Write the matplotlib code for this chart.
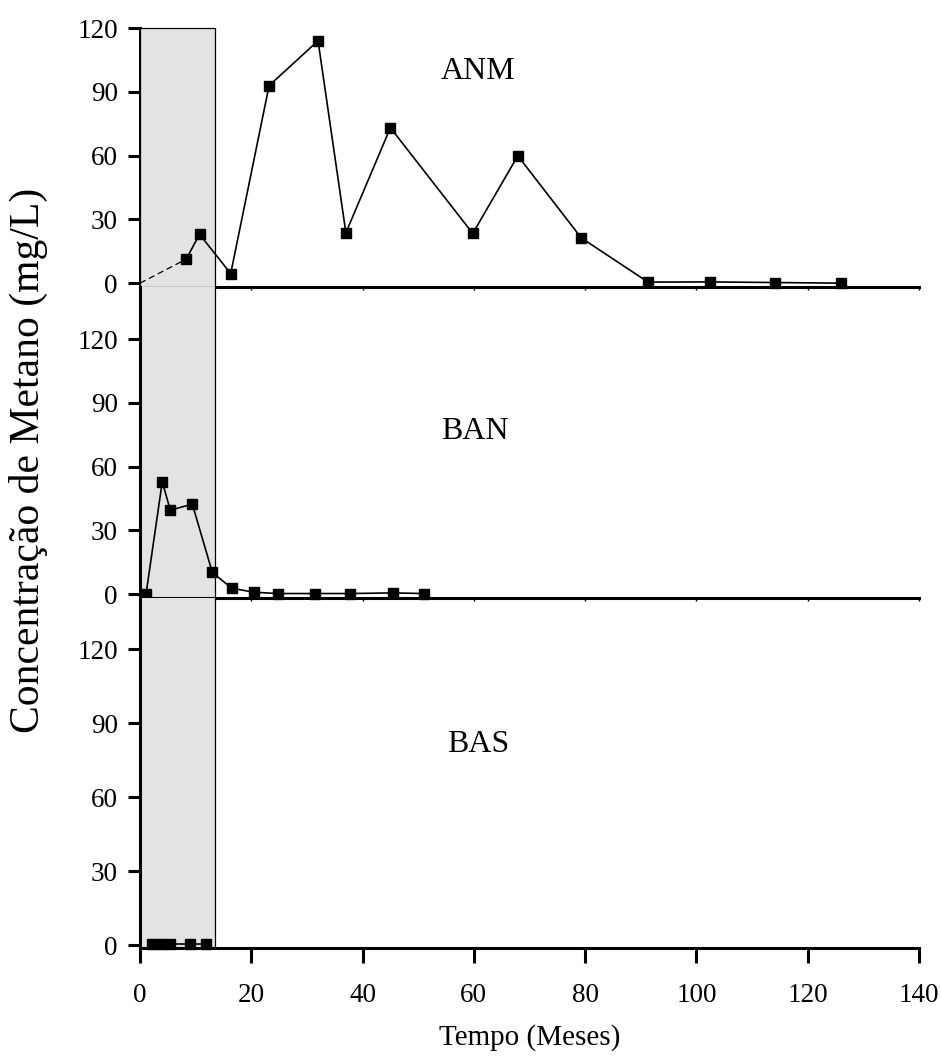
import matplotlib
matplotlib.use("Agg")
import matplotlib.pyplot as plt
from matplotlib.patches import Rectangle

plt.rcParams['font.family'] = ['Liberation Serif', 'DejaVu Serif']

# ---- data ----
anm_x = [8.3, 10.7, 16.3, 23.2, 32.0, 37.0, 45.0, 59.8, 67.9, 79.3, 91.3, 102.4, 114.1, 126.0]
anm_y = [11.3, 23.0, 4.5, 92.9, 114.0, 23.7, 73.1, 23.4, 59.9, 21.3, 0.5, 0.6, 0.3, 0.0]
anm_start_x = [0.0, 8.3]
anm_start_y = [0.0, 11.3]

ban_x = [1.1, 4.0, 5.45, 9.4, 13.0, 16.5, 20.5, 24.8, 31.5, 37.7, 45.5, 51.0]
ban_y = [0.3, 52.9, 39.5, 42.4, 10.2, 2.8, 0.9, 0.3, 0.3, 0.3, 0.6, 0.3]

bas_x = [2.2, 3.7, 5.4, 9.0, 11.9]
bas_y = [0.3, 0.3, 0.3, 0.3, 0.3]

labels = ["ANM", "BAN", "BAS"]
yticks = [0, 30, 60, 90, 120]
xticks = [0, 20, 40, 60, 80, 100, 120, 140]
shade_end = 13.5

W, H = 941, 1057
fig = plt.figure(figsize=(W / 100, H / 100), dpi=100)

left = 140 / W
width = (919 - 140) / W

def fy(p):
    return 1 - p / H

# panel pixel extents (top, bottom) and ylims
panels = [
    (28, 287, (-1.8, 120)),
    (287, 598, (-1.8, 144.5)),
    (598, 948, (-1.2, 140.7)),
]

axes = []
for (top, bot, yl) in panels:
    ax = fig.add_axes([left, fy(bot), width, (bot - top) / H])
    ax.set_xlim(0, 140)
    ax.set_ylim(*yl)
    ax.patch.set_alpha(0)
    for s in ["top", "right"]:
        ax.spines[s].set_visible(False)
    ax.spines["left"].set_linewidth(2.2)
    ax.spines["bottom"].set_linewidth(2.2)
    ax.set_yticks(yticks)
    ax.tick_params(axis="y", direction="out", length=9, width=2.2, labelsize=19.5, pad=7)
    ax.set_xticks(xticks)
    axes.append(ax)

mk = dict(marker="s", markersize=6.5, color="black", markerfacecolor="black", linewidth=1.2)

# top panel
ax = axes[0]
ax.add_patch(Rectangle((0, -1.8), shade_end, 121.8, facecolor="#e3e3e3",
                       edgecolor="black", linewidth=0.9, zorder=2.6, clip_on=False))
ax.plot(anm_start_x, anm_start_y, linestyle=(0, (5, 3)), color="black", linewidth=0.9, zorder=3)
ax.plot(anm_x, anm_y, zorder=4, clip_on=False, **mk)
ax.tick_params(axis="x", direction="out", length=2, width=1, labelbottom=False)
ax.text(0.434, 0.832, labels[0], transform=ax.transAxes, fontsize=23, ha="center", va="center")

# middle panel
ax = axes[1]
ax.axvspan(0, shade_end, facecolor="#e3e3e3", edgecolor="none", zorder=0.5)
ax.axvline(shade_end, color="black", linewidth=0.9, zorder=0.6)
ax.plot(ban_x, ban_y, zorder=4, clip_on=False, **mk)
ax.tick_params(axis="x", direction="out", length=2, width=1, labelbottom=False)
ax.text(0.43, 0.535, labels[1], transform=ax.transAxes, fontsize=23, ha="center", va="center")

# bottom panel
ax = axes[2]
ax.axvspan(0, shade_end, facecolor="#e3e3e3", edgecolor="none", zorder=0.5)
ax.axvline(shade_end, color="black", linewidth=0.9, zorder=0.6)
ax.plot(bas_x, bas_y, zorder=4, clip_on=False, **mk)
ax.tick_params(axis="x", direction="out", length=11, width=2.2, labelsize=19.5, pad=14)
ax.text(0.434, 0.58, labels[2], transform=ax.transAxes, fontsize=23, ha="center", va="center")
ax.set_xlabel("Tempo (Meses)", fontsize=21, labelpad=12)

fig.text(28 / W, fy(460), "Concentração de Metano (mg/L)", rotation=90,
         fontsize=30, ha="center", va="center")

fig.savefig("out.png", dpi=100)
